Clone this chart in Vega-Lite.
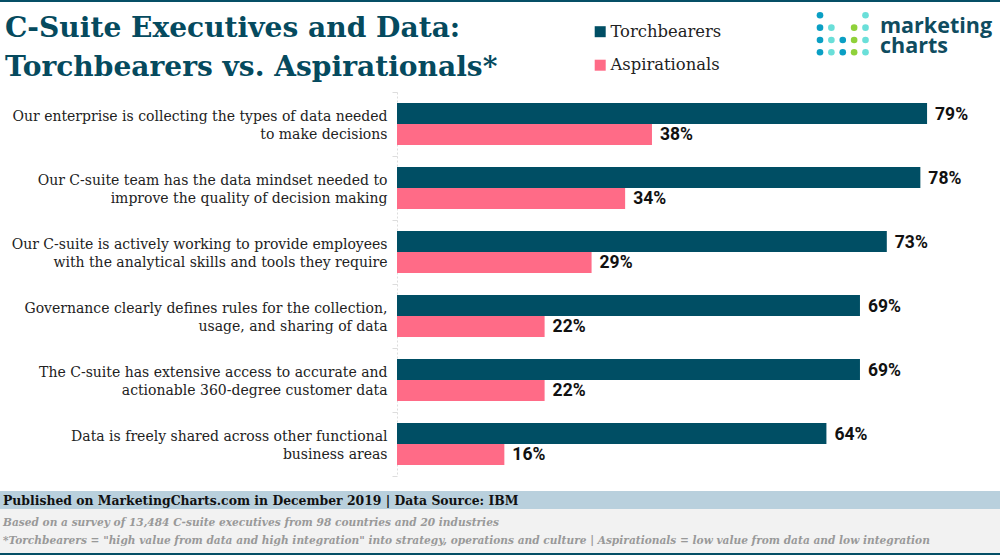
{
  "$schema": "https://vega.github.io/schema/vega-lite/v6.json",
  "description": "C-Suite Executives and Data: Torchbearers vs. Aspirationals",
  "width": 603,
  "height": 384,
  "autosize": "none",
  "padding": {"left": 397, "top": 92, "right": 0, "bottom": 79},
  "background": "white",
  "title": {
    "text": ["C-Suite Executives and Data:", "Torchbearers vs. Aspirationals*"],
    "anchor": "start",
    "frame": "group",
    "align": "left",
    "baseline": "top",
    "dx": -392,
    "dy": 82,
    "offset": 0,
    "font": "DejaVu Serif",
    "fontSize": 28.1,
    "fontWeight": "bold",
    "lineHeight": 39,
    "color": "#054a5e"
  },
  "config": {
    "view": {"stroke": null},
    "font": "DejaVu Serif"
  },
  "datasets": {
    "survey": [
      {"statement": "Our enterprise is collecting the types of data needed|to make decisions", "segment": "Torchbearers", "share": 0.79},
      {"statement": "Our enterprise is collecting the types of data needed|to make decisions", "segment": "Aspirationals", "share": 0.38},
      {"statement": "Our C-suite team has the data mindset needed to|improve the quality of decision making", "segment": "Torchbearers", "share": 0.78},
      {"statement": "Our C-suite team has the data mindset needed to|improve the quality of decision making", "segment": "Aspirationals", "share": 0.34},
      {"statement": "Our C-suite is actively working to provide employees|with the analytical skills and tools they require", "segment": "Torchbearers", "share": 0.73},
      {"statement": "Our C-suite is actively working to provide employees|with the analytical skills and tools they require", "segment": "Aspirationals", "share": 0.29},
      {"statement": "Governance clearly defines rules for the collection,|usage, and sharing of data", "segment": "Torchbearers", "share": 0.69},
      {"statement": "Governance clearly defines rules for the collection,|usage, and sharing of data", "segment": "Aspirationals", "share": 0.22},
      {"statement": "The C-suite has extensive access to accurate and|actionable 360-degree customer data", "segment": "Torchbearers", "share": 0.69},
      {"statement": "The C-suite has extensive access to accurate and|actionable 360-degree customer data", "segment": "Aspirationals", "share": 0.22},
      {"statement": "Data is freely shared across other functional|business areas", "segment": "Torchbearers", "share": 0.64},
      {"statement": "Data is freely shared across other functional|business areas", "segment": "Aspirationals", "share": 0.16}
    ],
    "logo": [
      {"col": 0, "row": 0, "tone": "blue"},
      {"col": 4, "row": 0, "tone": "teal"},
      {"col": 0, "row": 1, "tone": "blue"},
      {"col": 1, "row": 1, "tone": "teal"},
      {"col": 3, "row": 1, "tone": "green"},
      {"col": 4, "row": 1, "tone": "teal"},
      {"col": 0, "row": 2, "tone": "blue"},
      {"col": 1, "row": 2, "tone": "teal"},
      {"col": 2, "row": 2, "tone": "blue"},
      {"col": 3, "row": 2, "tone": "green"},
      {"col": 4, "row": 2, "tone": "teal"},
      {"col": 0, "row": 3, "tone": "blue"},
      {"col": 1, "row": 3, "tone": "teal"},
      {"col": 2, "row": 3, "tone": "blue"},
      {"col": 3, "row": 3, "tone": "green"},
      {"col": 4, "row": 3, "tone": "teal"}
    ]
  },
  "resolve": {"scale": {"x": "independent", "y": "independent"}},
  "layer": [
    {
      "data": {"values": [{}]},
      "mark": {"type": "rect", "color": "#054f66"},
      "encoding": {"x": {"value": -397}, "x2": {"value": 603}, "y": {"value": -92}, "y2": {"value": -90}}
    },
    {
      "data": {"values": [{}]},
      "mark": {"type": "rect", "color": "#b9d0dd"},
      "encoding": {"x": {"value": -397}, "x2": {"value": 603}, "y": {"value": 399}, "y2": {"value": 417}}
    },
    {
      "data": {"values": [{}]},
      "mark": {"type": "rect", "color": "#f2f2f2"},
      "encoding": {"x": {"value": -397}, "x2": {"value": 603}, "y": {"value": 417}, "y2": {"value": 461}}
    },
    {
      "data": {"values": [{}]},
      "mark": {"type": "rect", "color": "#054f66"},
      "encoding": {"x": {"value": -397}, "x2": {"value": 603}, "y": {"value": 461}, "y2": {"value": 463}}
    },
    {
      "data": {"name": "survey"},
      "mark": {"type": "bar"},
      "encoding": {
        "y": {
          "field": "statement",
          "type": "nominal",
          "sort": null,
          "title": null,
          "scale": {"paddingInner": 0, "paddingOuter": 0},
          "axis": {
            "labelExpr": "split(datum.label, '|')",
            "labelLineHeight": 18,
            "labelFontSize": 14,
            "labelColor": "#222222",
            "labelFont": "DejaVu Serif",
            "labelPadding": 5,
            "labelLimit": 400,
            "labelBaseline": "middle",
            "labelOffset": -7.5,
            "tickBand": "extent",
            "tickColor": "#dddddd",
            "tickSize": 5,
            "domainColor": "#dddddd",
            "domainDash": [2, 2]
          }
        },
        "yOffset": {
          "field": "segment",
          "type": "nominal",
          "sort": ["Torchbearers", "Aspirationals"],
          "scale": {"paddingInner": 0, "paddingOuter": 0.524}
        },
        "x": {
          "field": "share",
          "type": "quantitative",
          "axis": null,
          "scale": {"domain": [0, 0.8987]}
        },
        "color": {
          "field": "segment",
          "type": "nominal",
          "scale": {"domain": ["Torchbearers", "Aspirationals"], "range": ["#004e64", "#ff6b87"]},
          "legend": {
            "title": null,
            "orient": "none",
            "legendX": 195,
            "legendY": -68.5,
            "direction": "vertical",
            "symbolType": "square",
            "symbolSize": 121,
            "symbolStrokeWidth": 0,
            "labelFont": "DejaVu Serif",
            "labelFontSize": 16.4,
            "labelColor": "#222222",
            "labelOffset": 2,
            "rowPadding": 16.5
          }
        }
      }
    },
    {
      "data": {"name": "survey"},
      "mark": {"type": "text", "align": "left", "baseline": "middle", "dx": 8, "dy": 1, "font": "Roboto", "fontWeight": "bold", "fontSize": 17.5, "color": "#111111"},
      "encoding": {
        "y": {
          "field": "statement",
          "type": "nominal",
          "sort": null,
          "axis": null,
          "scale": {"paddingInner": 0, "paddingOuter": 0}
        },
        "yOffset": {
          "field": "segment",
          "type": "nominal",
          "sort": ["Torchbearers", "Aspirationals"],
          "scale": {"paddingInner": 0, "paddingOuter": 0.524}
        },
        "x": {
          "field": "share",
          "type": "quantitative",
          "axis": null,
          "scale": {"domain": [0, 0.8987]}
        },
        "text": {"field": "share", "type": "quantitative", "format": ".0%"}
      }
    },
    {
      "data": {"name": "logo"},
      "mark": {"type": "point", "filled": true, "shape": "circle", "size": 44, "opacity": 1},
      "encoding": {
        "x": {
          "field": "col",
          "type": "quantitative",
          "axis": null,
          "scale": {"domain": [0, 4], "range": [423, 468.5], "nice": false, "zero": false}
        },
        "y": {
          "field": "row",
          "type": "quantitative",
          "axis": null,
          "scale": {"domain": [0, 3], "range": [-76.7, -39.7], "nice": false, "zero": false}
        },
        "fill": {
          "field": "tone",
          "type": "nominal",
          "legend": null,
          "scale": {"domain": ["blue", "teal", "green"], "range": ["#0a9fc4", "#6adfd9", "#8fd13a"]}
        }
      }
    },
    {
      "data": {"values": [{"line": "marketing"}]},
      "mark": {"type": "text", "align": "left", "baseline": "alphabetic", "font": "Open Sans", "fontWeight": "bold", "fontSize": 21.5, "color": "#0f4c5f"},
      "encoding": {"x": {"value": 483}, "y": {"value": -59}, "text": {"field": "line"}}
    },
    {
      "data": {"values": [{"line": "charts"}]},
      "mark": {"type": "text", "align": "left", "baseline": "alphabetic", "font": "Open Sans", "fontWeight": "bold", "fontSize": 21.5, "color": "#0f4c5f"},
      "encoding": {"x": {"value": 483}, "y": {"value": -39}, "text": {"field": "line"}}
    },
    {
      "data": {"values": [{"line": "Published on MarketingCharts.com in December 2019 | Data Source: IBM"}]},
      "mark": {"type": "text", "align": "left", "baseline": "middle", "font": "DejaVu Serif", "fontWeight": "bold", "fontSize": 12.4, "color": "#111111"},
      "encoding": {"x": {"value": -394}, "y": {"value": 409}, "text": {"field": "line"}}
    },
    {
      "data": {"values": [{"line": "Based on a survey of 13,484 C-suite executives from 98 countries and 20 industries"}]},
      "mark": {"type": "text", "align": "left", "baseline": "middle", "font": "DejaVu Serif", "fontWeight": "bold", "fontStyle": "italic", "fontSize": 10.6, "color": "#999999"},
      "encoding": {"x": {"value": -394}, "y": {"value": 431}, "text": {"field": "line"}}
    },
    {
      "data": {"values": [{"line": "*Torchbearers = \"high value from data and high integration\" into strategy, operations and culture | Aspirationals = low value from data and low integration"}]},
      "mark": {"type": "text", "align": "left", "baseline": "middle", "font": "DejaVu Serif", "fontWeight": "bold", "fontStyle": "italic", "fontSize": 10.6, "color": "#999999"},
      "encoding": {"x": {"value": -394}, "y": {"value": 449}, "text": {"field": "line"}}
    }
  ]
}
